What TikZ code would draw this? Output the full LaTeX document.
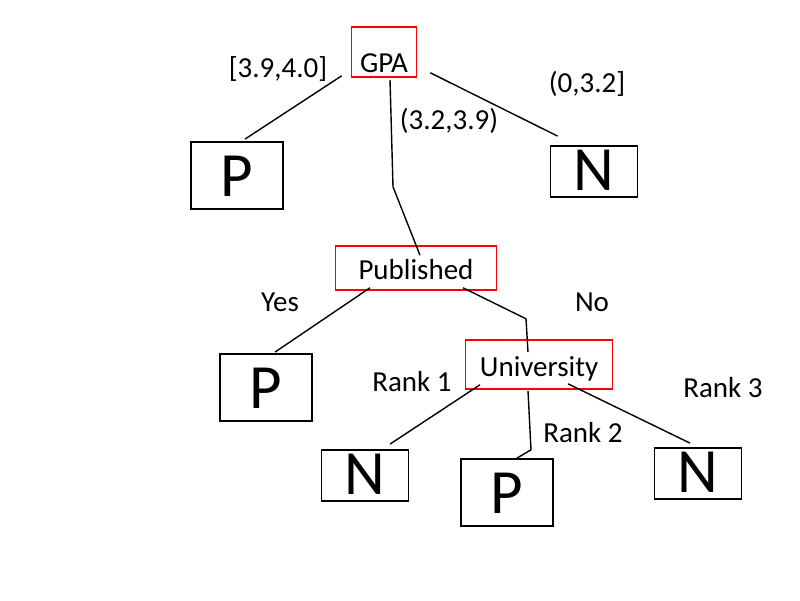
\documentclass[tikz,border=0pt]{standalone}
\usepackage{fontspec}
\setmainfont{Carlito}
\usetikzlibrary{calc}

\begin{document}
\begin{tikzpicture}[x=1pt,y=-1pt,
    every node/.style={inner sep=0pt,font=\fontsize{29}{34}\selectfont},
    test/.style={draw=red,line width=1.6pt,anchor=base},
    leafP/.style={draw,line width=1.8pt,minimum width=92pt,text height=54pt,text depth=13pt,anchor=base,font=\fontsize{63}{72}\selectfont},
    leafN/.style={draw,line width=1.8pt,minimum width=87pt,text height=44pt,text depth=7pt,anchor=base,font=\fontsize{63}{72}\selectfont},
    branch/.style={anchor=base},
    edge/.style={line width=1.4pt}]
\useasboundingbox (0,0) rectangle (800,600);
% tests
\node [test,minimum width=65pt,text height=45pt,text depth=5pt] (gpa) at (384,72) {GPA};
\node [test,minimum width=161pt,text height=33pt,text depth=11pt] (pub) at (416,279) {Published};
\node [test,minimum width=147pt,text height=36pt,text depth=13pt] (uni) at (539,376) {University};
% leaves
\node [leafP] (p1) at (237,196) {P};
\node [leafN] (n1) at (594,190) {N};
\node [leafP] (p2) at (266,408) {P};
\node [leafN] (n2) at (365,494) {N};
\node [leafP] (p3) at (507,513) {P};
\node [leafN] (n3) at (698,492) {N};
% branch labels
\node [branch] (b1) at (278,77) {[3.9,4.0]};
\node [branch] (b2) at (449,129) {(3.2,3.9)};
\node [branch] (b3) at (587,92) {(0,3.2]};
\node [branch] (b4) at (280,311) {Yes};
\node [branch] (b5) at (592,311) {No};
\node [branch] (b6) at (412,391) {Rank 1};
\node [branch] (b7) at (583,442) {Rank 2};
\node [branch] (b8) at (723,397) {Rank 3};
% edges
\draw [edge] ($(gpa.south west)+(-9,-2)$) -- ($(p1.north)+(8,-2)$);
\draw [edge] ($(gpa.south)+(6,2)$) -- ($(gpa.south)+(9,109)$) -- ($(pub.north)+(4,10)$);
\draw [edge] ($(gpa.south east)+(13,-5)$) -- ($(n1.north west)+(8,-9)$);
\draw [edge] ($(pub.south)+(-46,-3)$) -- ($(p2.north)+(9,-1)$);
\draw [edge] ($(pub.south)+(47,-3)$) -- ($(pub.south)+(110,28)$) -- ($(uni.north)+(-11,13)$);
\draw [edge] ($(uni.south)+(-59,-5)$) -- ($(n2.north)+(25,-5)$);
\draw [edge] ($(uni.south)+(-11,1)$) -- ($(uni.south)+(-8,60)$) -- ($(p3.north)+(10,0)$);
\draw [edge] ($(uni.south)+(29,-6)$) -- ($(n3.north)+(-8,-4)$);
\end{tikzpicture}
\end{document}
